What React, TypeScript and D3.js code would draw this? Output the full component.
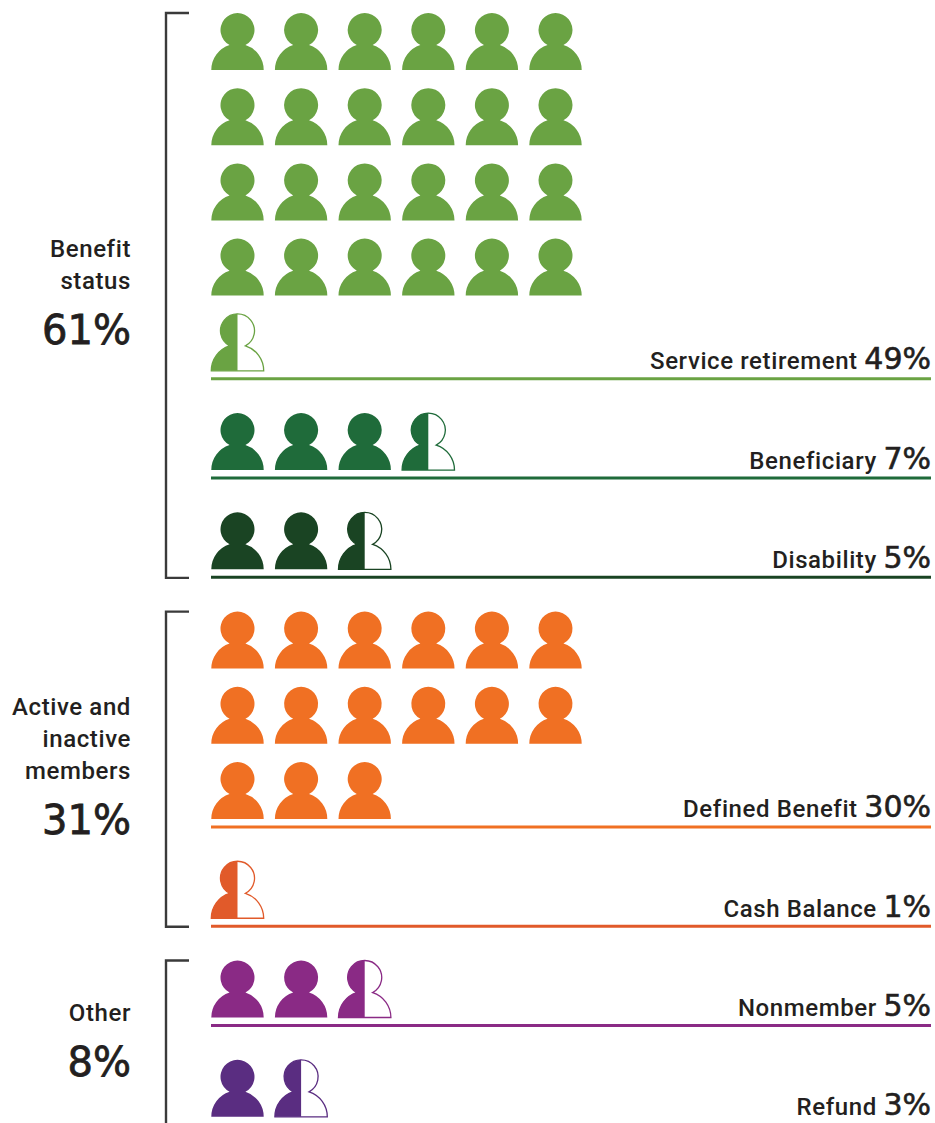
import * as d3 from "d3";

// percent of all members, one person icon = 2%
const seriesNames = ["Service retirement", "Beneficiary", "Disability", "Defined Benefit", "Cash Balance", "Nonmember", "Refund"];
const seriesValues = [49, 7, 5, 30, 1, 5, 3];
const seriesColors = ["#6aa343", "#1f6b3a", "#1a4423", "#f07023", "#e15a2a", "#8a2a85", "#5a2d81"];
const seriesGroup = [0, 0, 0, 1, 1, 2, 2];
const groupLabels = [["Benefit", "status"], ["Active and", "inactive", "members"], ["Other"]];
const groupTotals = [61, 31, 8];

const width = 935;
const height = 1123;
const perIcon = 2;
const perRow = 6;
const labelFont = "Roboto, 'Liberation Sans', sans-serif";
const numberFont = "'DejaVu Sans', sans-serif";
const ink = "#231f20";

const colX = d3.scaleLinear().domain([0, 1]).range([237.5, 301.1]);
const rowY = d3.scaleLinear().domain([0, 1]).range([70, 145.2]);
const seriesGap = 1.32; // rows between last row of a series and the next one

const bodyR = 26.2;
const headR = 17;
const headY = -40;

function personPath() {
  // where the head circle meets the body circle
  const y = (headR * headR - bodyR * bodyR - headY * headY) / (-2 * headY);
  const x = Math.sqrt(bodyR * bodyR - y * y);
  const p = d3.path();
  p.moveTo(-bodyR, 0);
  p.arc(0, 0, bodyR, Math.PI, Math.atan2(y, -x));
  p.arc(0, headY, headR, Math.atan2(y - headY, -x), Math.atan2(y - headY, x) + 2 * Math.PI);
  p.arc(0, 0, bodyR, Math.atan2(y, x), 0);
  p.closePath();
  return p.toString();
}

export default function App() {
  const person = personPath();

  let row = 0;
  const layout = seriesNames.map((name, i) => {
    const count = seriesValues[i] / perIcon;
    const rows = Math.ceil(count / perRow);
    const first = row;
    const last = first + rows - 1;
    row = last + seriesGap;
    const icons = d3.range(Math.ceil(count)).map((k) => ({
      k,
      x: colX(k % perRow),
      y: rowY(first + Math.floor(k / perRow)),
      half: k + 1 > count,
    }));
    return { name, i, icons, top: rowY(first), base: rowY(last) };
  });

  const brackets = groupLabels.map((_, g) => {
    const members = layout.filter((d) => seriesGroup[d.i] === g);
    return { top: members[0].top - 57, bottom: members[members.length - 1].base + 8.5 };
  });
  const totalY = [344, 834, 1076];

  return (
    <svg width={width} height={height} style={{ position: "absolute", left: 0, top: 0 }} fontFamily={labelFont}>
      <defs>
        <clipPath id="left-half">
          <rect x={-30} y={-60} width={30} height={62} />
        </clipPath>
      </defs>
      <rect width={width} height={height} fill="#fff" />

      {brackets.map((b, g) => (
        <path
          key={g}
          d={
            g === brackets.length - 1
              ? `M189,${b.top}H166V${height}`
              : `M189,${b.top}H166V${b.bottom}H189`
          }
          fill="none"
          stroke="#3a3a3a"
          strokeWidth={2.4}
        />
      ))}

      {groupLabels.map((lines, g) => (
        <g key={g} textAnchor="end" fill={ink}>
          {lines.map((l, j) => (
            <text key={l} x={131} y={totalY[g] - 55 - (lines.length - 1 - j) * 32} fontSize={24} fontWeight={500} letterSpacing={0.6}>
              {l}
            </text>
          ))}
          <text x={131} y={totalY[g]} fontSize={40} fontFamily={numberFont} stroke={ink} strokeWidth={0.8}>
            {groupTotals[g]}%
          </text>
        </g>
      ))}

      {layout.map((s) => (
        <g key={s.name}>
          {s.icons.map((ic) => (
            <g key={ic.k} transform={`translate(${ic.x},${ic.y})`}>
              {ic.half ? (
                <>
                  <path d={person} fill="#fff" stroke={seriesColors[s.i]} strokeWidth={1.3} />
                  <path d={person} fill={seriesColors[s.i]} clipPath="url(#left-half)" />
                </>
              ) : (
                <path d={person} fill={seriesColors[s.i]} />
              )}
            </g>
          ))}
          {s.i !== seriesNames.length - 1 && (
            <line x1={211} x2={931} y1={s.base + 8} y2={s.base + 8} stroke={seriesColors[s.i]} strokeWidth={3} />
          )}
          <text x={931} y={s.base - 1.5} textAnchor="end" fill={ink} fontSize={24} fontWeight={500} letterSpacing={0.6}>
            {s.name}{" "}
            <tspan fontSize={30} fontFamily={numberFont} letterSpacing={0} stroke={ink} strokeWidth={0.6}>
              {seriesValues[s.i]}%
            </tspan>
          </text>
        </g>
      ))}
    </svg>
  );
}
